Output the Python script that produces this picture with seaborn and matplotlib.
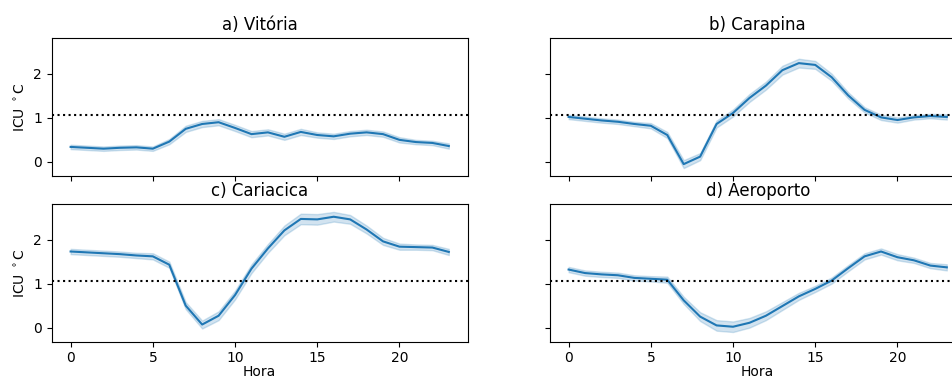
import numpy as np
import pandas as pd
import matplotlib
matplotlib.use("Agg")
import matplotlib.pyplot as plt
import seaborn as sns

hours = list(range(24))

vitoria = [0.34, 0.32, 0.30, 0.32, 0.33, 0.30, 0.46, 0.75, 0.86, 0.90, 0.77, 0.63,
           0.67, 0.57, 0.68, 0.61, 0.58, 0.64, 0.67, 0.63, 0.50, 0.45, 0.43, 0.36]
vitoria_hw = [0.05, 0.05, 0.05, 0.05, 0.05, 0.05, 0.06, 0.07, 0.07, 0.07, 0.07, 0.07,
              0.07, 0.07, 0.07, 0.06, 0.06, 0.06, 0.06, 0.06, 0.06, 0.05, 0.05, 0.06]

carapina = [1.02, 0.98, 0.94, 0.91, 0.86, 0.82, 0.61, -0.05, 0.12, 0.86, 1.11, 1.45,
            1.73, 2.08, 2.24, 2.20, 1.92, 1.51, 1.18, 1.01, 0.95, 1.01, 1.04, 1.02]
carapina_hw = [0.05, 0.05, 0.05, 0.05, 0.05, 0.06, 0.07, 0.09, 0.08, 0.08, 0.08, 0.09,
               0.09, 0.10, 0.10, 0.09, 0.08, 0.07, 0.06, 0.06, 0.06, 0.05, 0.05, 0.06]

cariacica = [1.73, 1.71, 1.69, 1.67, 1.64, 1.62, 1.43, 0.50, 0.07, 0.27, 0.74, 1.34,
             1.80, 2.21, 2.47, 2.46, 2.52, 2.46, 2.23, 1.96, 1.84, 1.83, 1.82, 1.72]
cariacica_hw = [0.06, 0.06, 0.06, 0.06, 0.06, 0.07, 0.07, 0.08, 0.09, 0.10, 0.10, 0.10,
                0.10, 0.11, 0.12, 0.12, 0.11, 0.10, 0.09, 0.08, 0.07, 0.06, 0.06, 0.07]

aeroporto = [1.32, 1.24, 1.21, 1.19, 1.13, 1.11, 1.09, 0.62, 0.25, 0.05, 0.02, 0.11,
             0.27, 0.49, 0.71, 0.88, 1.07, 1.35, 1.62, 1.73, 1.60, 1.53, 1.41, 1.37]
aeroporto_hw = [0.06, 0.06, 0.06, 0.06, 0.06, 0.06, 0.07, 0.08, 0.10, 0.12, 0.12, 0.11,
                0.10, 0.09, 0.08, 0.07, 0.07, 0.07, 0.07, 0.07, 0.07, 0.06, 0.06, 0.07]

titles = ["a) Vitória", "b) Carapina", "c) Cariacica", "d) Aeroporto"]
threshold = 1.07

series = [(vitoria, vitoria_hw), (carapina, carapina_hw),
          (cariacica, cariacica_hw), (aeroporto, aeroporto_hw)]

fig, axes = plt.subplots(2, 2, sharex=True, sharey=True, figsize=(9.52, 3.8), dpi=100)

positions = [
    [0.0543, 0.5368, 0.437, 0.3632],
    [0.5774, 0.5368, 0.437, 0.3632],
    [0.0543, 0.1008, 0.437, 0.3624],
    [0.5774, 0.1008, 0.437, 0.3624],
]

for ax, (vals, hw), title, pos in zip(axes.flat, series, titles, positions):
    rows = []
    for h, v, w in zip(hours, vals, hw):
        rows += [(h, v - w), (h, v), (h, v + w)]
    df = pd.DataFrame(rows, columns=["Hora", "ICU"])
    sns.lineplot(data=df, x="Hora", y="ICU", estimator="median",
                 errorbar=("pi", 100), ax=ax, color="#1f77b4")
    ax.axhline(threshold, color="black", linestyle=":", linewidth=1.5)
    ax.set_title(title, fontsize=12)
    ax.set_position(pos)
    ax.set_xlabel("")
    ax.set_ylabel("")

axes[0, 0].set_ylim(-0.32, 2.81)
axes[0, 0].set_xlim(-1.15, 24.15)
axes[0, 0].set_xticks([0, 5, 10, 15, 20])
axes[0, 0].set_yticks([0, 1, 2])
axes[0, 0].set_ylabel(r"ICU $^\circ$C")
axes[1, 0].set_ylabel(r"ICU $^\circ$C")
axes[1, 0].set_xlabel("Hora", labelpad=0)
axes[1, 1].set_xlabel("Hora", labelpad=0)

fig.savefig("out.png", dpi=100)
